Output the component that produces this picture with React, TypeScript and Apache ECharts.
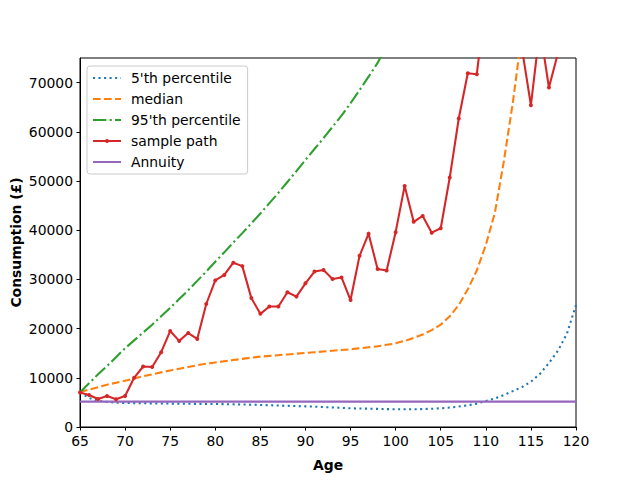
import React, { useEffect, useRef } from "react";
import * as echarts from "echarts";

const ages = [
  65, 66, 67, 68, 69, 70, 71, 72, 73, 74, 75, 76, 77, 78, 79, 80, 81, 82, 83, 84,
  85, 86, 87, 88, 89, 90, 91, 92, 93, 94, 95, 96, 97, 98, 99, 100, 101, 102, 103, 104,
  105, 106, 107, 108, 109, 110, 111, 112, 113, 114, 115, 116, 117, 118, 119, 120,
];

const p5 = [
  7000, 5900, 5350, 5100, 4950, 4880, 4850, 4820, 4800, 4780, 4760, 4740, 4720, 4700, 4690, 4670, 4640, 4610, 4580, 4530,
  4470, 4420, 4370, 4310, 4260, 4200, 4130, 4050, 3980, 3890, 3800, 3760, 3720, 3680, 3640, 3600, 3600, 3600, 3650, 3700,
  3800, 3950, 4150, 4400, 4750, 5300, 5800, 6500, 7300, 8100, 9200, 10800, 13000, 15500, 19000, 24800,
];

const median = [
  7100, 7600, 8100, 8600, 9000, 9400, 9850, 10300, 10700, 11100, 11500, 11850, 12200, 12550, 12850, 13100, 13350, 13600, 13850, 14100,
  14300, 14450, 14600, 14750, 14900, 15050, 15200, 15350, 15500, 15650, 15800, 16000, 16200, 16400, 16700, 17000, 17500, 18100, 18800, 19700,
  20800, 22500, 24800, 28000, 31800, 37000, 43500, 54000, 66000, 80000, 97000, 118000, 145000, 180000, 225000, 280000,
];

const p95 = [
  7000, 8900, 10700, 12400, 14200, 16000, 17600, 19200, 20800, 22500, 24200, 26000, 27800, 29700, 31600, 33600, 35500, 37500, 39400, 41400,
  43400, 45500, 47600, 49800, 52000, 54300, 56500, 58700, 61000, 63300, 65800, 68500, 71200, 74000, 77500, 81000, 85000, 89500, 94000, 99000,
  104000, 110000, 116000, 123000, 130000, 138000, 147000, 157000, 168000, 180000, 194000, 210000, 228000, 248000, 270000, 295000,
];

const samplePath = [
  7000, 6500, 5700, 6300, 5630, 6300, 10000, 12300, 12200, 15200, 19500, 17500, 19100, 17900, 25000, 29800, 30900, 33400, 32700, 26200,
  23000, 24500, 24500, 27400, 26500, 29200, 31600, 31900, 30100, 30400, 25800, 34800, 39300, 32100, 31800, 39600, 49000, 41700, 42900, 39500,
  40400, 50700, 62700, 71900, 71700, 87000, 98000, 106000, 92000, 77000, 65400, 81000, 69000, 76000, 90000, 102000,
];

const annuity = [
  5150, 5150, 5150, 5150, 5150, 5150, 5150, 5150, 5150, 5150, 5150, 5150, 5150, 5150, 5150, 5150, 5150, 5150, 5150, 5150,
  5150, 5150, 5150, 5150, 5150, 5150, 5150, 5150, 5150, 5150, 5150, 5150, 5150, 5150, 5150, 5150, 5150, 5150, 5150, 5150,
  5150, 5150, 5150, 5150, 5150, 5150, 5150, 5150, 5150, 5150, 5150, 5150, 5150, 5150, 5150, 5150,
];

const seriesNames = ["5'th percentile", "median", "95'th percentile", "sample path", "Annuity"];
const xTicks = [65, 70, 75, 80, 85, 90, 95, 100, 105, 110, 115, 120];
const yTicks = [0, 10000, 20000, 30000, 40000, 50000, 60000, 70000];

const FONT = "DejaVu Sans";
const FS = 13.9;
const LW = 2.08;

function pairs(vals: number[]) {
  return vals.map((v, i) => [ages[i], v]);
}

export default function App() {
  const ref = useRef<HTMLDivElement>(null);
  useEffect(() => {
    if (!ref.current) return;
    const chart = echarts.init(ref.current, null, { renderer: "svg" });
    const base = {
      type: "line",
      symbol: "none",
      clip: true,
      z: 2,
    };
    chart.setOption({
      animation: false,
      backgroundColor: "#ffffff",
      textStyle: { fontFamily: FONT },
      grid: {
        left: 80,
        right: 64,
        top: 58,
        bottom: 53,
        containLabel: false,
        outerBoundsMode: "none",
        show: true,
        borderColor: "#000000",
        borderWidth: 1,
        backgroundColor: "transparent",
      },
      legend: {
        orient: "vertical",
        left: 87,
        top: 66,
        padding: [5, 7, 5, 5],
        itemWidth: 28,
        itemHeight: 5,
        itemGap: 7,
        backgroundColor: "rgba(255,255,255,0.8)",
        borderColor: "#cccccc",
        borderWidth: 1,
        borderRadius: 3,
        textStyle: { fontFamily: FONT, fontSize: FS, color: "#000000", padding: [0, 0, 0, 5], lineHeight: 14 },
        data: seriesNames.map((n, i) =>
          i === 3 ? { name: n } : { name: n, itemStyle: { opacity: 0 } }
        ),
      },
      xAxis: {
        type: "value",
        min: 65,
        max: 120,
        interval: 5,
        name: "Age",
        nameLocation: "middle",
        nameGap: 31,
        nameMoveOverlap: false,
        nameTextStyle: { fontFamily: FONT, fontSize: FS, fontWeight: "bold", color: "#000000" },
        axisLine: { show: true, lineStyle: { color: "#000000", width: 1 } },
        axisTick: { show: true, length: 3.5, inside: false, lineStyle: { color: "#000000", width: 1 }, customValues: xTicks },
        axisLabel: {
          margin: 7,
          fontFamily: FONT,
          fontSize: FS,
          color: "#000000",
          customValues: xTicks,
          formatter: (v: number) => String(v),
        },
        splitLine: { show: false },
      },
      yAxis: {
        type: "value",
        min: 0,
        max: 75000,
        interval: 10000,
        name: "Consumption (£)",
        nameLocation: "middle",
        nameGap: 57,
        nameMoveOverlap: false,
        nameTextStyle: { fontFamily: FONT, fontSize: FS, fontWeight: "bold", color: "#000000" },
        axisLine: { show: true, lineStyle: { color: "#000000", width: 1 } },
        axisTick: { show: true, length: 3.5, inside: false, lineStyle: { color: "#000000", width: 1 }, customValues: yTicks },
        axisLabel: {
          margin: 7,
          fontFamily: FONT,
          fontSize: FS,
          color: "#000000",
          customValues: yTicks,
          formatter: (v: number) => String(v),
        },
        splitLine: { show: false },
      },
      series: [
        {
          ...base,
          name: seriesNames[0],
          data: pairs(p5),
          lineStyle: { color: "#1f77b4", width: LW, type: [2.08, 3.44] },
          itemStyle: { color: "#1f77b4" },
        },
        {
          ...base,
          name: seriesNames[1],
          data: pairs(median),
          lineStyle: { color: "#ff7f0e", width: LW, type: [7.7, 3.33] },
          itemStyle: { color: "#ff7f0e" },
        },
        {
          ...base,
          name: seriesNames[2],
          data: pairs(p95),
          lineStyle: { color: "#2ca02c", width: LW, type: [13.3, 3.33, 2.08, 3.33] },
          itemStyle: { color: "#2ca02c" },
        },
        {
          ...base,
          name: seriesNames[3],
          data: pairs(samplePath),
          symbol: "circle",
          symbolSize: 4,
          showSymbol: true,
          lineStyle: { color: "#d62728", width: LW, type: "solid" },
          itemStyle: { color: "#d62728" },
        },
        {
          ...base,
          name: seriesNames[4],
          data: pairs(annuity),
          lineStyle: { color: "#9467bd", width: LW, type: "solid" },
          itemStyle: { color: "#9467bd" },
        },
      ],
    });
    return () => chart.dispose();
  }, []);
  return (
    <div
      ref={ref}
      style={{ position: "absolute", left: 0, top: 0, width: 640, height: 480, background: "#ffffff" }}
    />
  );
}
